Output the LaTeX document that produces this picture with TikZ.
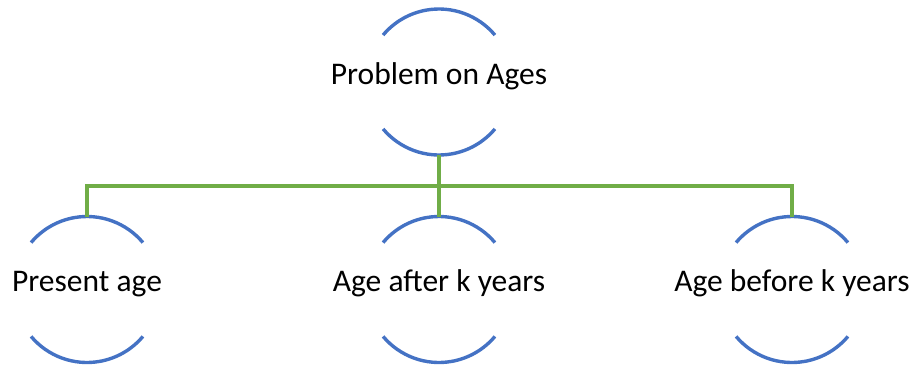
\documentclass[tikz,border=0pt]{standalone}
\usepackage{fontspec}
\setmainfont{Carlito}
\definecolor{rimblue}{HTML}{4472C4}
\definecolor{branchgreen}{HTML}{70AD47}
\tikzset{
  rim/.style={rimblue, line width=3.4pt},
  branch/.style={branchgreen, line width=3.4pt},
  topic/.style={inner sep=0pt, text height=0.7em, text depth=0.25em,
    font=\fontsize{31.5}{36}\selectfont}
}
% (name, x, y, text)
\newcommand{\bubble}[4]{
    \node[topic] (#1) at (#2,#3) {#4};
    \draw[rim] ([shift={(40:73pt)}]#1.center) arc[start angle=40, end angle=140, radius=73pt];
    \draw[rim] ([shift={(220:73pt)}]#1.center) arc[start angle=220, end angle=320, radius=73pt];
    \coordinate (#1-n) at ([yshift=73pt]#1.center);
    \coordinate (#1-s) at ([yshift=-73pt]#1.center);
}

\begin{document}
\begin{tikzpicture}[x=1pt, y=1pt]

  \useasboundingbox (0,0) rectangle (913,368);

  \bubble{ages}{439}{286}{Problem on Ages}
  \bubble{present}{87}{78.5}{Present age}
  \bubble{after}{439}{78.5}{Age after k years}
  \bubble{before}{792}{78.5}{Age before k years}

  \draw[branch] (ages-s) -- ++(0,-31) -| (present-n);
  \draw[branch] (ages-s) -- ++(0,-31) -| (after-n);
  \draw[branch] (ages-s) -- ++(0,-31) -| (before-n);

\end{tikzpicture}
\end{document}
